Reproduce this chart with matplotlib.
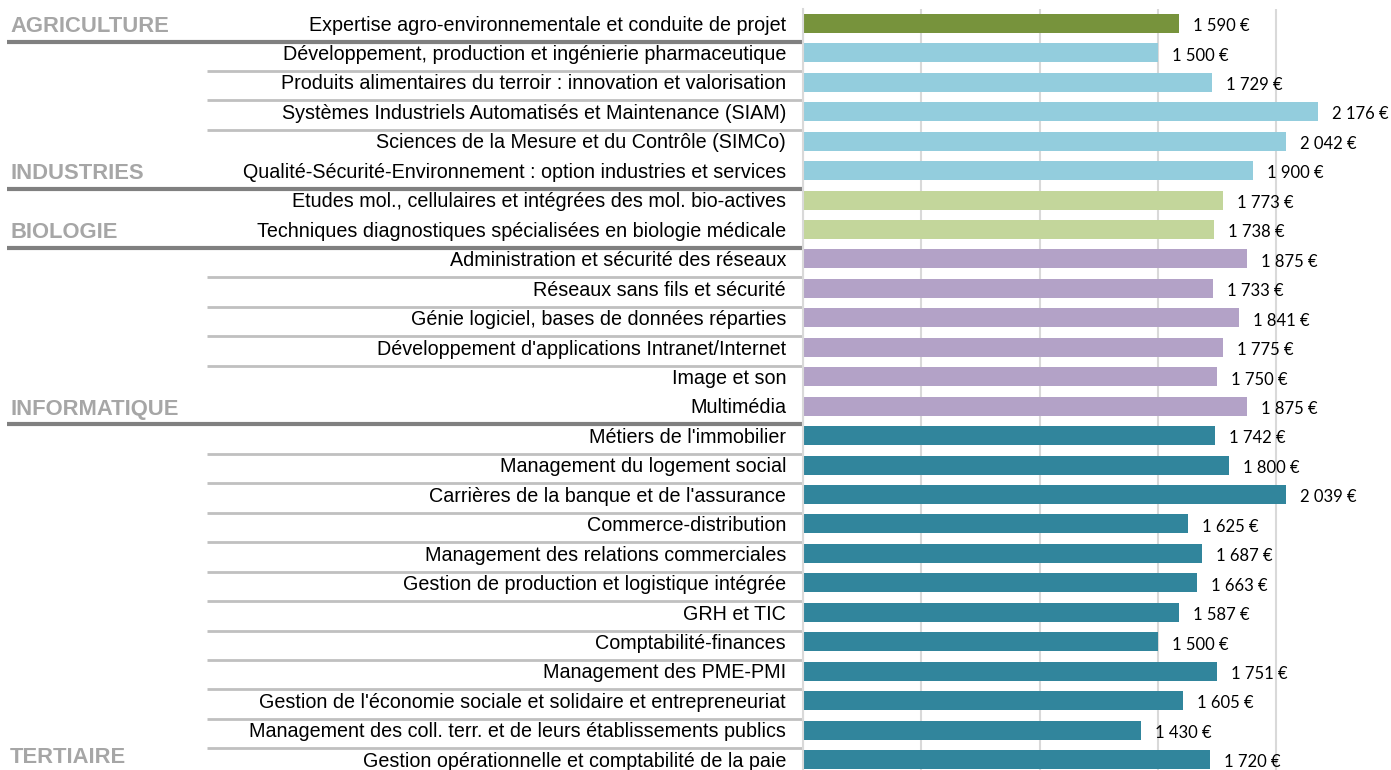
import matplotlib
matplotlib.use("Agg")
import matplotlib.pyplot as plt
from matplotlib import transforms

# ===== données =====
formations = [
    "Expertise agro-environnementale et conduite de projet",
    "Développement, production et ingénierie pharmaceutique",
    "Produits alimentaires du terroir : innovation et valorisation",
    "Systèmes Industriels Automatisés et Maintenance (SIAM)",
    "Sciences de la Mesure et du Contrôle (SIMCo)",
    "Qualité-Sécurité-Environnement : option industries et services",
    "Etudes mol., cellulaires et intégrées des mol. bio-actives",
    "Techniques diagnostiques spécialisées en biologie médicale",
    "Administration et sécurité des réseaux",
    "Réseaux sans fils et sécurité",
    "Génie logiciel, bases de données réparties",
    "Développement d'applications Intranet/Internet",
    "Image et son",
    "Multimédia",
    "Métiers de l'immobilier",
    "Management du logement social",
    "Carrières de la banque et de l'assurance",
    "Commerce-distribution",
    "Management des relations commerciales",
    "Gestion de production et logistique intégrée",
    "GRH et TIC",
    "Comptabilité-finances",
    "Management des PME-PMI",
    "Gestion de l'économie sociale et solidaire et entrepreneuriat",
    "Management des coll. terr. et de leurs établissements publics",
    "Gestion opérationnelle et comptabilité de la paie",
]
salaires = [1590, 1500, 1729, 2176, 2042, 1900, 1773, 1738,
            1875, 1733, 1841, 1775, 1750, 1875,
            1742, 1800, 2039, 1625, 1687, 1663, 1587, 1500, 1751, 1605, 1430, 1720]
domaines = ["AGRICULTURE", "INDUSTRIES", "BIOLOGIE", "INFORMATIQUE", "TERTIAIRE"]
nb_par_domaine = [1, 5, 2, 6, 12]
couleurs_domaine = ["#77933C", "#93CDDD", "#C3D69B", "#B3A2C7", "#31859C"]

# séparateurs clairs à l'intérieur des domaines (après ces lignes)
sep_clairs = [1, 2, 3, 8, 9, 10, 11] + list(range(14, 25))

W, H = 1391, 770
fig = plt.figure(figsize=(W / 100, H / 100), dpi=100)
x0 = 803
px_par_euro = 0.2367
xmax = 2500
ax = fig.add_axes([x0 / W, (H - 774.3) / H, xmax * px_par_euro / W, 765.7 / H])

couleurs = []
for c, n in zip(couleurs_domaine, nb_par_domaine):
    couleurs += [c] * n

y = list(range(len(formations)))
ax.barh(y, salaires, height=0.645, color=couleurs, zorder=2)
ax.set_xlim(0, xmax)
ax.set_ylim(len(formations) - 0.5, -0.5)

ax.set_xticks(range(0, xmax + 1, 500))
ax.set_yticks([])
ax.tick_params(axis="x", length=0, labelbottom=False)
ax.grid(axis="x", color="#D9D9D9", linewidth=1.5, zorder=0)
for s in ["top", "right", "bottom"]:
    ax.spines[s].set_visible(False)
ax.spines["left"].set_color("#D9D9D9")
ax.spines["left"].set_linewidth(1.5)

for i, v in enumerate(salaires):
    txt = f"{v:,}".replace(",", " ") + " €"
    ax.annotate(txt, (v, i), xytext=(10, -2), textcoords="offset points",
                ha="left", va="center", fontsize=12, family="Lato", color="black")

trans = transforms.blended_transform_factory(fig.transFigure, ax.transData)
for i, lab in enumerate(formations):
    ax.text(786 / W, i + 0.06, lab, transform=trans, ha="right", va="center",
            fontsize=14.2, family="Liberation Sans", color="black")

# libellés des domaines + séparateurs foncés
fin = -1
for d, n in zip(domaines, nb_par_domaine):
    fin += n
    dy = 0.1 if fin < len(formations) - 1 else -0.08
    ax.text(10 / W, fin + dy, d, transform=trans, ha="left", va="center",
            fontsize=15.8, fontweight="bold", family="Liberation Sans", color="#A6A6A6")
    if fin < len(formations) - 1:
        ax.plot([7 / W, x0 / W], [fin + 0.62, fin + 0.62], transform=trans,
                color="#808080", linewidth=3, clip_on=False, solid_capstyle="butt")

for i in sep_clairs:
    ax.plot([207 / W, x0 / W], [i + 0.62, i + 0.62], transform=trans,
            color="#C0C0C0", linewidth=2, clip_on=False, solid_capstyle="butt")

fig.savefig("out.png", dpi=100)
